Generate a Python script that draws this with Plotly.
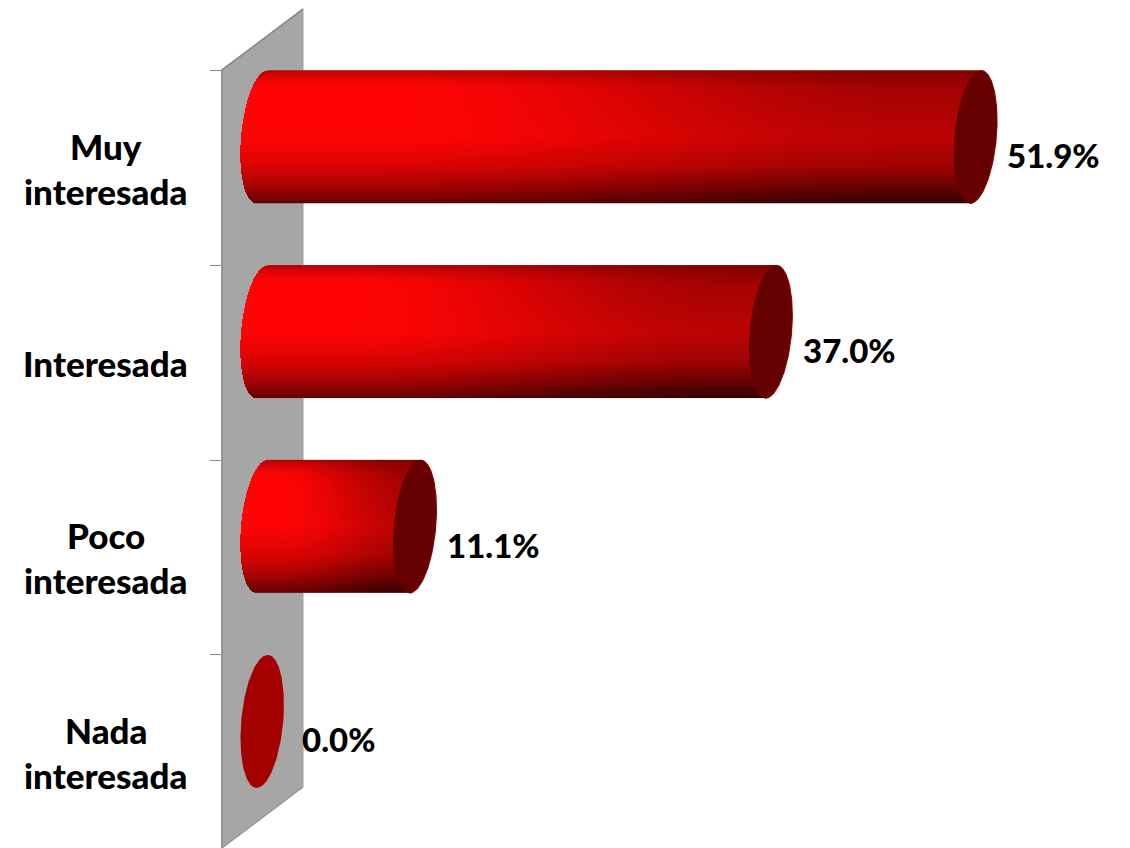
import numpy as np
import plotly.graph_objects as go

categories = ["Muy<br>interesada", "Interesada", "Poco<br>interesada", "Nada<br>interesada"]
values = [51.9, 37.0, 11.1, 0.0]
value_labels = ["51.9%", "37.0%", "11.1%", "0.0%"]

W, H = 1130, 848
ML = 222
PX_PER_X = 13.74
PX_PER_Y = 194.8
X0_PX = 262.2
Y0_PX = 137.0
xr = [(ML - X0_PX) / PX_PER_X, (W - X0_PX) / PX_PER_X]
yr = [(H - Y0_PX) / PX_PER_Y, -Y0_PX / PX_PER_Y]

RY = 66.5 / PX_PER_Y
RX = 21.0 / PX_PER_X
SH = 5.5 / PX_PER_X


def px(xp):
    return (xp - ML) / (W - ML)


def py(yp):
    return 1 - yp / H


def ppath(points, close=False):
    s = "M " + " L ".join(f"{px(a):.5f},{py(b):.5f}" for a, b in points)
    return s + (" Z" if close else "")


V_STOPS = [0, .04, .10, .16, .50, .72, .88, 1]
LEFT_PROFILE = [180, 215, 248, 255, 255, 218, 162, 98]
RIGHT_PROFILE = [125, 140, 155, 165, 188, 160, 98, 52]


def shade(h, v):
    left = np.interp(v, V_STOPS, LEFT_PROFILE)
    right = np.interp(v, V_STOPS, RIGHT_PROFILE)
    t = np.clip((h - 0.18) / 0.72, 0, 1)
    t = t * t * (3 - 2 * t)
    return (left * (1 - t) + right * t) / 255


fig = go.Figure()
for i, val in enumerate(values):
    if val <= 0:
        continue
    x = np.arange(-RX - SH, val + RX + SH, 1 / PX_PER_X)
    y = np.arange(i - RY, i + RY, 0.5 / PX_PER_Y)
    xx, yy = np.meshgrid(x, y)
    u = (yy - i) / RY
    root = np.sqrt(np.clip(1 - u ** 2, 0, 1))
    left_edge = -SH * u - RX * root
    right_edge = val - SH * u + RX * root
    z = shade((xx + RX) / (val + 2 * RX), (u + 1) / 2)
    z = np.where((xx >= left_edge) & (xx <= right_edge) & (np.abs(u) <= 1), z, np.nan)
    fig.add_trace(go.Heatmap(
        x=x, y=y, z=z.astype("float32"), zmin=0, zmax=1, showscale=False, hoverinfo="skip",
        colorscale=[[0, "rgb(0,0,0)"], [1, "rgb(255,4,4)"]],
    ))

fig.add_trace(go.Bar(
    x=values, y=list(range(len(values))), orientation="h", width=2 * RY,
    marker=dict(color="rgba(0,0,0,0)", line=dict(width=0)), hoverinfo="x+y", showlegend=False,
))

t = np.linspace(0, 2 * np.pi, 181)
for i, val in enumerate(values):
    ex = val + RX * np.cos(t) - SH * np.sin(t)
    ey = i + RY * np.sin(t)
    fig.add_trace(go.Scatter(
        x=ex, y=ey, mode="lines", fill="toself", line=dict(width=0),
        fillcolor="#660000" if val > 0 else "#a50000", hoverinfo="skip", showlegend=False,
    ))
    if val > 0:
        ta = np.linspace(-np.pi / 2, np.pi / 2, 91)
        fig.add_trace(go.Scatter(
            x=val + RX * np.cos(ta) - SH * np.sin(ta), y=i + RY * np.sin(ta), mode="lines",
            line=dict(width=1.2, color="#8c0000"), hoverinfo="skip", showlegend=False,
        ))

CAT_FONT = dict(family="Lato, Carlito, sans-serif", size=35, color="black", weight=900)
VAL_FONT = dict(family="Lato, Carlito, sans-serif", size=33, color="black", weight=900)
annotations = []
for i, (cat, val, lab) in enumerate(zip(categories, values, value_labels)):
    annotations.append(dict(
        x=val, y=i, xref="x", yref="y", text=lab, showarrow=False, font=VAL_FONT,
        xanchor="left", yanchor="middle", xshift=30 if val > 0 else 38, yshift=-18,
    ))
    lines = cat.split("<br>")
    for j, line in enumerate(lines):
        off = (j - (len(lines) - 1) / 2) * 45
        annotations.append(dict(
            x=px(105.5), y=i, xref="paper", yref="y", text=line, showarrow=False,
            font=CAT_FONT, xanchor="center", yanchor="middle", yshift=-31 - off,
        ))

wall = [(222, 70), (303, 9), (303, 787), (222, 848)]
shapes = [
    dict(type="path", path=ppath(wall, True), xref="paper", yref="paper", layer="below",
         fillcolor="#a6a6a6", line=dict(color="#a0a0a0", width=1)),
    dict(type="path", path=ppath([(222, 848), (222, 70), (303, 9)]), xref="paper", yref="paper",
         layer="below", line=dict(color="#8a8a8a", width=1.6)),
    dict(type="path", path=ppath([(222, 848), (303, 787)]), xref="paper", yref="paper",
         layer="below", line=dict(color="#969696", width=1.2)),
]

fig.update_layout(
    width=W, height=H, autosize=False, showlegend=False,
    margin=dict(l=ML, r=0, t=0, b=0), paper_bgcolor="white", plot_bgcolor="rgba(0,0,0,0)",
    xaxis=dict(range=xr, visible=False, fixedrange=True),
    yaxis=dict(
        range=yr, fixedrange=True, showgrid=False, zeroline=False, showline=False,
        tickmode="array", tickvals=[i - RY for i in range(len(values))],
        ticktext=["" for _ in values], ticks="outside", ticklen=11, tickwidth=1.2, tickcolor="#8a8a8a",
    ),
    shapes=shapes, annotations=annotations,
)
fig.write_html(
    "out.html",
    config={"displayModeBar": False},
    post_script="document.body.style.margin='0';document.documentElement.style.overflow='hidden';",
)
